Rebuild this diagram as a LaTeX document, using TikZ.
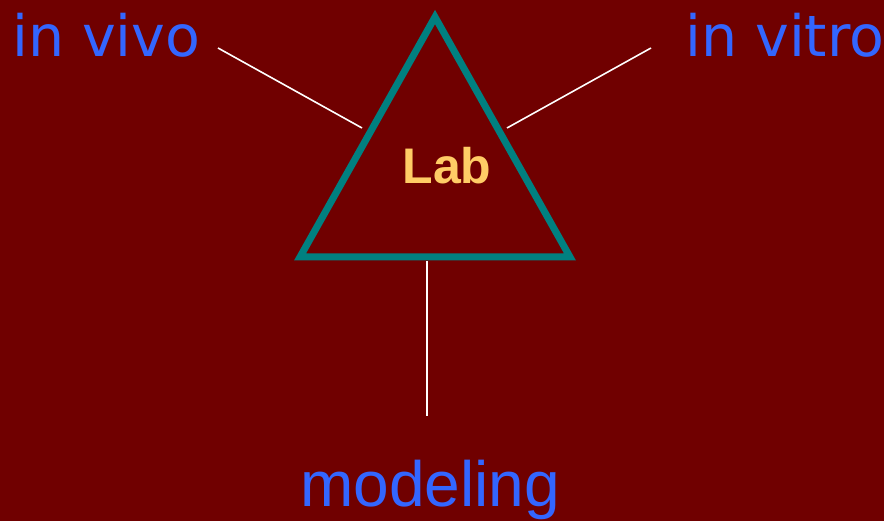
\documentclass[tikz,border=0pt]{standalone}
\usepackage{fontspec}
\setmainfont{Liberation Sans}
\newfontfamily\labelfont{DejaVu Sans}
\definecolor{bgred}{RGB}{112,0,0}
\definecolor{triteal}{RGB}{0,128,128}
\definecolor{termblue}{RGB}{51,102,255}
\definecolor{labgold}{RGB}{255,204,102}
\usetikzlibrary{positioning}

\begin{document}
\begin{tikzpicture}[x=1pt,y=-1pt,
  term/.style={
    inner sep=0pt,
    font=\labelfont\fontsize{57}{60}\selectfont,
    text=termblue
  },
  link/.style={draw=white, line width=1.6pt}
]
\fill[bgred] (0,0) rectangle (884,521);
\useasboundingbox (0,0) rectangle (884,521);

\draw[triteal, line width=7pt, miter limit=10]
  (435,17) -- (300,257) -- (570,257) -- cycle;
\node[inner sep=0pt, font=\bfseries\fontsize{50}{52}\selectfont, text=labgold,
  anchor=base] (lab) at (447,184) {Lab};

\node[term, anchor=base west] (vivo)  at (12,57)  {in vivo};
\node[term, anchor=base west] (vitro) at (685,57) {in vitro};
\node[term, font=\fontsize{64}{66}\selectfont, anchor=base] (model) at (430,506) {modeling};

% line ends at the triangle and below the labels
\coordinate (vivoend)  at (218,48);
\coordinate (vitroend) at (651,48);
\coordinate (modelend) at (427,416);
\coordinate (trileft)  at (362,128);
\coordinate (triright) at (507,128);
\coordinate (tribase)  at (427,261);

\draw[link] (vivoend) -- (trileft);
\draw[link] (vitroend) -- (triright);
\draw[link] (tribase) -- (modelend);
\end{tikzpicture}
\end{document}
